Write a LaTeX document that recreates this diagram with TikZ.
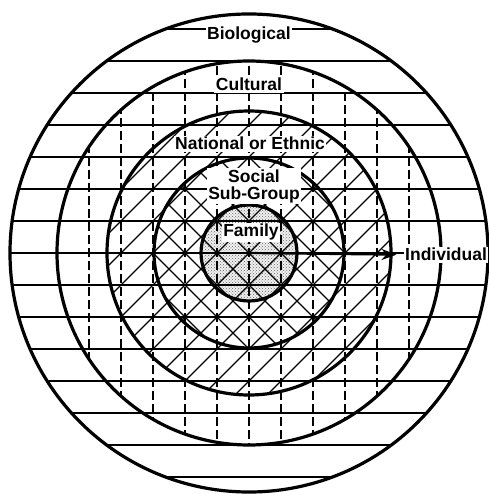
\documentclass[tikz,border=0pt]{standalone}
\usepackage{fontspec}
\newfontfamily\labelfont{Liberation Sans}
\usetikzlibrary{arrows.meta, patterns}

\begin{document}
\begin{tikzpicture}[
        x=1pt, y=1pt,
        ring/.style={line width=3.2pt},
        hline/.style={line width=1.3pt},
        vline/.style={line width=1.3pt, dash pattern=on 9pt off 4pt},
        diag/.style={line width=1.2pt},
        ringlabel/.style={fill=white, inner sep=1.5pt, font=\labelfont\bfseries\fontsize{17.5}{17}\selectfont},
        arrow/.style={line width=2.2pt, shorten >=7pt, -{Stealth[length=15pt, width=11pt, open]}}
    ]
    \useasboundingbox (-249,-241) rectangle (239,253);
    \coordinate (c) at (0,0);

    % family: dotted fill
    \fill[gray!12] (c) circle[radius=48pt];
    \fill[pattern=crosshatch dots, pattern color=black!60] (c) circle[radius=48pt];

    % horizontal lines over the whole disc
    \begin{scope}
        \clip (c) circle[radius=239pt];
        \foreach \k in {-7,...,7}
            \draw[hline] (-250,32*\k) -- (250,32*\k);
    \end{scope}

    % dashed verticals inside the cultural ring
    \begin{scope}
        \clip (c) circle[radius=192pt];
        \foreach \k in {-5,...,5}
            \draw[vline] (32*\k,200) -- (32*\k,-200);
    \end{scope}

    % rising diagonals inside the national ring
    \begin{scope}
        \clip (c) circle[radius=142pt];
        \foreach \k in {-6,...,6}
            \draw[diag] (-150,-150+32*\k) -- (150,150+32*\k);
    \end{scope}

    % falling diagonals inside the social ring
    \begin{scope}
        \clip (c) circle[radius=95pt];
        \foreach \k in {-4,...,4}
            \draw[diag] (-100,100+32*\k) -- (100,-100+32*\k);
    \end{scope}

    % rings
    \foreach \r in {48,95,142,192,239}
        \draw[ring] (c) circle[radius=\r pt];

    % labels
    \node[ringlabel, anchor=base] (bio) at (0,213) {Biological};
    \node[ringlabel, anchor=base] (cult) at (0,162) {Cultural};
    \node[ringlabel, anchor=base] (nat) at (1,103) {National or Ethnic};
    \node[ringlabel, align=center] (soc) at (5,67) {Social\\Sub-Group};
    \node[ringlabel, anchor=base] (fam) at (2,16) {Family};
    \node[ringlabel, anchor=base west] (indiv) at (154.5,-8) {Individual};

    \draw[arrow] (c) -- (indiv.west);
\end{tikzpicture}
\end{document}
